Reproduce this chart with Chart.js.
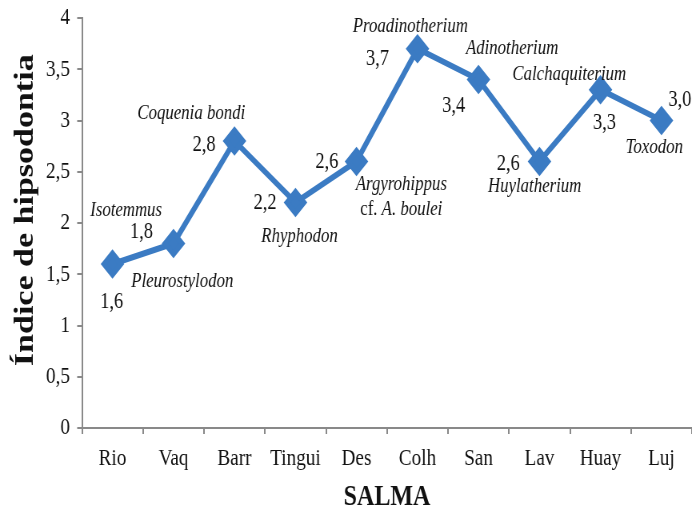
<!DOCTYPE html>
<html><head><meta charset="utf-8">
<script src="https://cdn.jsdelivr.net/npm/chart.js@4/dist/chart.umd.min.js"></script>
<style>html,body{margin:0;padding:0;background:#fff;overflow:hidden}</style>
</head><body>
<canvas id="c" width="865" height="511" style="width:692px;height:511px"></canvas>
<script>
const categories = ['Rio','Vaq','Barr','Tingui','Des','Colh','San','Lav','Huay','Luj'];
const values = [1.6, 1.8, 2.8, 2.2, 2.6, 3.7, 3.4, 2.6, 3.3, 3.0];
const valueLabels = ['1,6','1,8','2,8','2,2','2,6','3,7','3,4','2,6','3,3','3,0'];
const taxa = ['Isotemmus','Pleurostylodon','Coquenia bondi','Rhyphodon','Argyrohippus','Proadinotherium','Adinotherium','Huylatherium','Calchaquiterium','Toxodon'];
const yTicks = ['0','0,5','1','1,5','2','2,5','3','3,5','4'];

// label placement (style): [dx,dy] offsets from each point, in canvas units
const valueOffsets = [[-1,38],[-40,-12],[-38,4],[-38,0],[-37,0],[-50,10],[-31,26],[-39,2],[5,33],[23,-21]];
const taxaOffsets = [[17,-54],[11,38],[-54,-28],[5,34],[56,23],[-9,-22],[42,-31],[-6,25],[-39,-15],[-9,27]];

const FONT = '"Liberation Serif","Times New Roman",serif';

const annot = {
  id: 'annot',
  afterDatasetsDraw(chart) {
    const ctx = chart.ctx;
    const meta = chart.getDatasetMeta(0);
    ctx.save();
    ctx.fillStyle = '#111';
    ctx.textAlign = 'center';
    ctx.textBaseline = 'middle';
    meta.data.forEach((pt, i) => {
      ctx.font = '23px ' + FONT;
      ctx.fillText(valueLabels[i], pt.x + valueOffsets[i][0], pt.y + valueOffsets[i][1]);
      ctx.font = 'italic 21px ' + FONT;
      ctx.fillText(taxa[i], pt.x + taxaOffsets[i][0], pt.y + taxaOffsets[i][1]);
      if (i === 4) {
        const y = pt.y + taxaOffsets[i][1] + 25;
        ctx.font = '21px ' + FONT;
        const a = 'cf. ';
        const wa = ctx.measureText(a).width;
        ctx.font = 'italic 21px ' + FONT;
        const b = 'A. boulei';
        const wb = ctx.measureText(b).width;
        const x0 = pt.x + taxaOffsets[i][0] - (wa + wb) / 2;
        ctx.textAlign = 'left';
        ctx.font = '21px ' + FONT;
        ctx.fillText(a, x0, y);
        ctx.font = 'italic 21px ' + FONT;
        ctx.fillText(b, x0 + wa, y);
        ctx.textAlign = 'center';
      }
    });
    ctx.restore();
  }
};

new Chart(document.getElementById('c'), {
  type: 'line',
  data: {
    labels: categories,
    datasets: [{
      data: values,
      borderColor: '#3b7bc3',
      backgroundColor: '#3b7bc3',
      borderWidth: 6,
      pointStyle: 'rectRot',
      pointRadius: 10.5,
      pointHoverRadius: 10.5,
      tension: 0,
      fill: false
    }]
  },
  options: {
    responsive: false,
    animation: false,
    devicePixelRatio: 1,
    events: [],
    layout: { autoPadding: false, padding: { top: 0, right: 0, bottom: 0, left: 0 } },
    plugins: { legend: { display: false }, tooltip: { enabled: false } },
    scales: {
      x: {
        type: 'category',
        offset: true,
        afterFit: (s) => { s.height = 83; },
        grid: { display: true, drawOnChartArea: false, offset: true, tickLength: 6, color: '#898989', lineWidth: 2 },
        border: { display: true, color: '#898989', width: 2 },
        ticks: { color: '#111', font: { family: FONT, size: 24 }, padding: 10 },
        title: { display: true, text: 'SALMA', color: '#111', font: { family: FONT, size: 30, weight: 'bold' }, padding: { top: 0, bottom: -4 } }
      },
      y: {
        min: 0, max: 4,
        afterFit: (s) => { s.width = 102.5; s.paddingTop = 18; s.paddingBottom = 0; },
        ticks: { stepSize: 0.5, color: '#111', font: { family: FONT, size: 24 }, padding: 9,
          callback: (v) => yTicks[Math.round(v * 2)] },
        grid: { display: true, drawOnChartArea: false, tickLength: 6, color: '#898989', lineWidth: 2 },
        border: { display: true, color: '#898989', width: 2 },
        title: { display: true, text: '   Índice de hipsodontia', color: '#111', font: { family: FONT, size: 34, weight: 'bold' }, padding: { top: 12, bottom: 0 } }
      }
    }
  },
  plugins: [annot]
});
</script>
</body></html>
